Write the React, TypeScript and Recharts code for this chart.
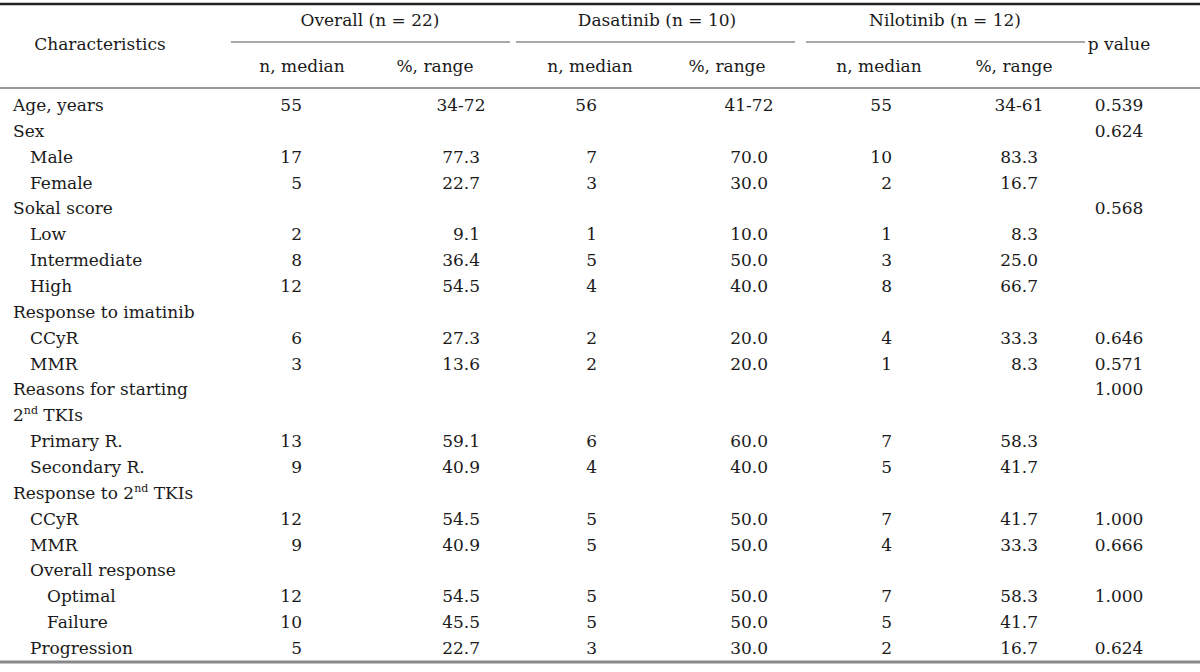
import { ComposedChart, ReferenceLine, Scatter, XAxis, YAxis } from "recharts";

// ---- table data (one entry per body row) ----
const characteristics = [
	"Age, years", "Sex", "Male", "Female", "Sokal score", "Low", "Intermediate", "High",
	"Response to imatinib", "CCyR", "MMR", "Reasons for starting", "2nd TKIs", "Primary R.",
	"Secondary R.", "Response to 2nd TKIs", "CCyR", "MMR", "Overall response", "Optimal",
	"Failure", "Progression",
];
const indentLevels = [0, 0, 1, 1, 0, 1, 1, 1, 0, 1, 1, 0, 0, 1, 1, 0, 1, 1, 1, 2, 2, 1];

const overallN = ["55", "", "17", "5", "", "2", "8", "12", "", "6", "3", "", "", "13", "9", "", "12", "9", "", "12", "10", "5"];
const overallPct = ["34-72", "", "77.3", "22.7", "", "9.1", "36.4", "54.5", "", "27.3", "13.6", "", "", "59.1", "40.9", "", "54.5", "40.9", "", "54.5", "45.5", "22.7"];
const dasatinibN = ["56", "", "7", "3", "", "1", "5", "4", "", "2", "2", "", "", "6", "4", "", "5", "5", "", "5", "5", "3"];
const dasatinibPct = ["41-72", "", "70.0", "30.0", "", "10.0", "50.0", "40.0", "", "20.0", "20.0", "", "", "60.0", "40.0", "", "50.0", "50.0", "", "50.0", "50.0", "30.0"];
const nilotinibN = ["55", "", "10", "2", "", "1", "3", "8", "", "4", "1", "", "", "7", "5", "", "7", "4", "", "7", "5", "2"];
const nilotinibPct = ["34-61", "", "83.3", "16.7", "", "8.3", "25.0", "66.7", "", "33.3", "8.3", "", "", "58.3", "41.7", "", "41.7", "33.3", "", "58.3", "41.7", "16.7"];
const pValues = ["0.539", "0.624", "", "", "0.568", "", "", "", "", "0.646", "0.571", "1.000", "", "", "", "", "1.000", "0.666", "", "1.000", "", "0.624"];

const groupTitles = ["Overall (n = 22)", "Dasatinib (n = 10)", "Nilotinib (n = 12)"];
const subHeaders = ["n, median", "%, range"];

// ---- layout ----
const W = 1200;
const H = 672;
const FONT = "'DejaVu Serif', 'Liberation Serif', serif";
const FONT_SIZE = 17;
const TEXT = "#1a1a1a";
const ROW0_Y = 105;
const ROW_H = 25.86;
const rowAt = (px: number) => (px - ROW0_Y) / ROW_H;

const LABEL_X = 13;
const INDENT = 17;
const groups = [
	{ nRight: 302, pctRight: 480, nHead: 302, pctHead: 435, title: 370, line: [231, 510] },
	{ nRight: 597, pctRight: 768, nHead: 590, pctHead: 727, title: 657, line: [516, 795] },
	{ nRight: 892, pctRight: 1038, nHead: 879, pctHead: 1014, title: 945, line: [806, 1085] },
];
const P_X = 1119;

type Cell = { x: number; row: number; text: string; anchor: "start" | "middle" | "end" };

const columnCells = (values: string[], x: number, anchor: Cell["anchor"]): Cell[] =>
	values
		.map((text, row) => ({ x, row, text, anchor }))
		.filter((c) => c.text !== "");

// ranges sit centred on the decimal column
const pctCells = (values: string[], right: number): Cell[] =>
	values
		.map((text, row) =>
			text.includes("-")
				? { x: right - 19, row, text, anchor: "middle" as const }
				: { x: right, row, text, anchor: "end" as const },
		)
		.filter((c) => c.text !== "");

const labelCells: Cell[] = characteristics.map((text, row) => ({
	x: LABEL_X + indentLevels[row] * INDENT,
	row,
	text,
	anchor: "start",
}));

const bodyCells: Cell[] = [
	...labelCells,
	...columnCells(overallN, groups[0].nRight, "end"),
	...pctCells(overallPct, groups[0].pctRight),
	...columnCells(dasatinibN, groups[1].nRight, "end"),
	...pctCells(dasatinibPct, groups[1].pctRight),
	...columnCells(nilotinibN, groups[2].nRight, "end"),
	...pctCells(nilotinibPct, groups[2].pctRight),
	...columnCells(pValues, P_X, "middle"),
];

const headerCells: Cell[] = [
	{ x: 100, row: rowAt(44), text: "Characteristics", anchor: "middle" },
	{ x: P_X, row: rowAt(44), text: "p value", anchor: "middle" },
	...groups.map((g, i) => ({ x: g.title, row: rowAt(20), text: groupTitles[i], anchor: "middle" as const })),
	...groups.flatMap((g) => [
		{ x: g.nHead, row: rowAt(66), text: subHeaders[0], anchor: "middle" as const },
		{ x: g.pctHead, row: rowAt(66), text: subHeaders[1], anchor: "middle" as const },
	]),
];

// "2nd" gets a superscript
function rich(text: string) {
	const i = text.indexOf("2nd");
	if (i < 0) return text;
	return [
		<tspan key="a">{text.slice(0, i + 1)}</tspan>,
		<tspan key="b" dy={-7} fontSize={11}>
			nd
		</tspan>,
		<tspan key="c" dy={7}>
			{text.slice(i + 3)}
		</tspan>,
	];
}

const TextCell = (props: any) => {
	const { cx, cy, payload } = props;
	return (
		<text
			x={cx}
			y={cy}
			dy="0.35em"
			textAnchor={payload.anchor}
			fontFamily={FONT}
			fontSize={FONT_SIZE}
			fill={TEXT}
			style={{ whiteSpace: "pre" }}
		>
			{rich(payload.text)}
		</text>
	);
};

export default function App() {
	return (
		<div style={{ width: W, height: H, background: "#fff" }}>
			<style>{"body{margin:0}"}</style>
			<ComposedChart width={W} height={H} margin={{ top: 0, right: 0, bottom: 0, left: 0 }}>
				<XAxis type="number" dataKey="x" domain={[0, W]} hide allowDataOverflow />
				<YAxis
					type="number"
					dataKey="row"
					domain={[rowAt(0), rowAt(H)]}
					reversed
					hide
					allowDataOverflow
				/>
				<ReferenceLine y={rowAt(4)} stroke="#222" strokeWidth={2.5} />
				<ReferenceLine y={rowAt(88)} stroke="#777" strokeWidth={1.5} />
				<ReferenceLine y={rowAt(662)} stroke="#888" strokeWidth={3} />
				{groups.map((g, i) => (
					<ReferenceLine
						key={i}
						segment={[
							{ x: g.line[0], y: rowAt(42) },
							{ x: g.line[1], y: rowAt(42) },
						]}
						stroke="#555"
						strokeWidth={1.2}
					/>
				))}
				<Scatter data={headerCells} shape={TextCell} isAnimationActive={false} />
				<Scatter data={bodyCells} shape={TextCell} isAnimationActive={false} />
			</ComposedChart>
		</div>
	);
}
